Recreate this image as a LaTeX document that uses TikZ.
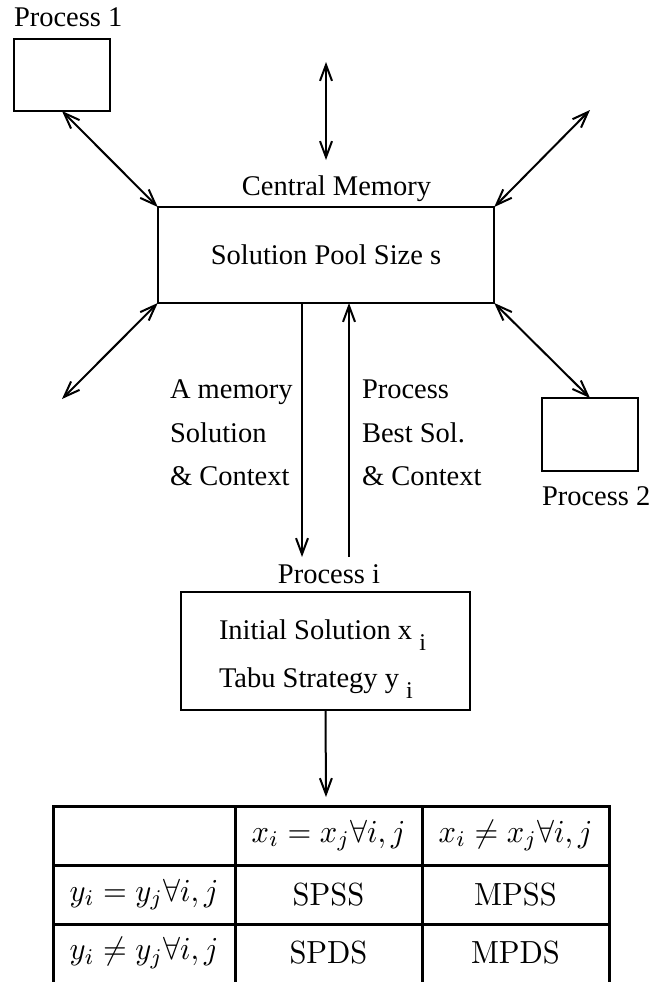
\documentclass[tikz,border=0pt]{standalone}
\usepackage[no-math]{fontspec}
\setmainfont{Liberation Serif}
\usetikzlibrary{arrows.meta}

\newcommand{\lsub}[1]{\raisebox{-11pt}{\fontsize{24}{24}\selectfont #1}}
\newcommand{\tabm}[1]{\scalebox{3.05}[3.2]{$#1$}}

\begin{document}
\begin{tikzpicture}[x=1pt,y=1pt,yscale=-1,
  every node/.style={inner sep=0pt,outer sep=0pt,font=\fontsize{28.5}{34}\selectfont},
  box/.style={draw,line width=2pt},
  link/.style={line width=2pt,>={Straight Barb[length=16pt,width=12pt]}},
  grid/.style={line width=3pt},
  cell/.style={font=\normalsize}]
 \useasboundingbox (0,0) rectangle (653,982);

 % boxes
 \node[box,minimum width=96pt,minimum height=72pt] (p1) at (62,75) {};
 \node[box,minimum width=96pt,minimum height=73pt] (p2) at (590,434.5) {};
 \node[box,minimum width=336.5pt,minimum height=96pt] (cm) at (326,255) {Solution Pool Size s};
 \node[box,minimum width=289pt,minimum height=118pt] (pi) at (325.5,651) {};

 % labels
 \node[anchor=base west] (lp1) at (14,27) {Process 1};
 \node[anchor=base west] (lp2) at (542,505) {Process 2};
 \node[anchor=base] (lcm) at (336.5,195) {Central Memory};
 \node[anchor=base] (lpi) at (329,583) {Process i};
 \node[anchor=base west] (ini) at (219,639) {Initial Solution x \lsub{i}};
 \node[anchor=base west] (tabu) at (219,687) {Tabu Strategy y \lsub{i}};

 \node[anchor=base west] (ma) at (170,398) {A memory};
 \node[anchor=base west] (mb) at (170,442) {Solution};
 \node[anchor=base west] (mc) at (170,485) {\& Context};
 \node[anchor=base west] (pa) at (362,398) {Process};
 \node[anchor=base west] (pb) at (362,442) {Best Sol.};
 \node[anchor=base west] (pc) at (362,485) {\& Context};

 % connectors
 \coordinate (top) at (326,62);
 \coordinate (topm) at (326,160);
 \coordinate (ne) at (590,110);
 \coordinate (sw) at (62,399);
 \coordinate (dn) at (302,557);
 \coordinate (upf) at (349,557);
 \coordinate (tabtop) at (326,797);
 \draw[link,<->] (top) -- (topm);
 \draw[link,<->] (p1.south) -- (cm.north west);
 \draw[link,<->] (cm.north east) -- (ne);
 \draw[link,<->] (cm.south west) -- (sw);
 \draw[link,<->] (cm.south east) -- (p2.north);
 \draw[link,->] (cm.south -| dn) -- (dn);
 \draw[link,->] (upf) -- (cm.south -| upf);
 \draw[link,->] (pi.south) -- (tabtop);

 % table
 \draw[grid] (53,982) -- (53,806) -- (609,806) -- (609,982);
 \draw[grid] (235,806) -- (235,982);
 \draw[grid] (422,806) -- (422,982);
 \draw[grid] (53,865) -- (609,865);
 \draw[grid] (53,924) -- (609,924);

 \node[cell] (t12) at (328.5,835.5) {\tabm{x_i = x_j \forall i, j}};
 \node[cell] (t13) at (515.5,835.5) {\tabm{x_i \neq x_j \forall i, j}};
 \node[cell] (t21) at (144,894.5) {\tabm{y_i = y_j \forall i, j}};
 \node[cell] (t22) at (328.5,894.5) {\tabm{\mathrm{SPSS}}};
 \node[cell] (t23) at (515.5,894.5) {\tabm{\mathrm{MPSS}}};
 \node[cell] (t31) at (144,953) {\tabm{y_i \neq y_j \forall i, j}};
 \node[cell] (t32) at (328.5,953) {\tabm{\mathrm{SPDS}}};
 \node[cell] (t33) at (515.5,953) {\tabm{\mathrm{MPDS}}};
\end{tikzpicture}
\end{document}
